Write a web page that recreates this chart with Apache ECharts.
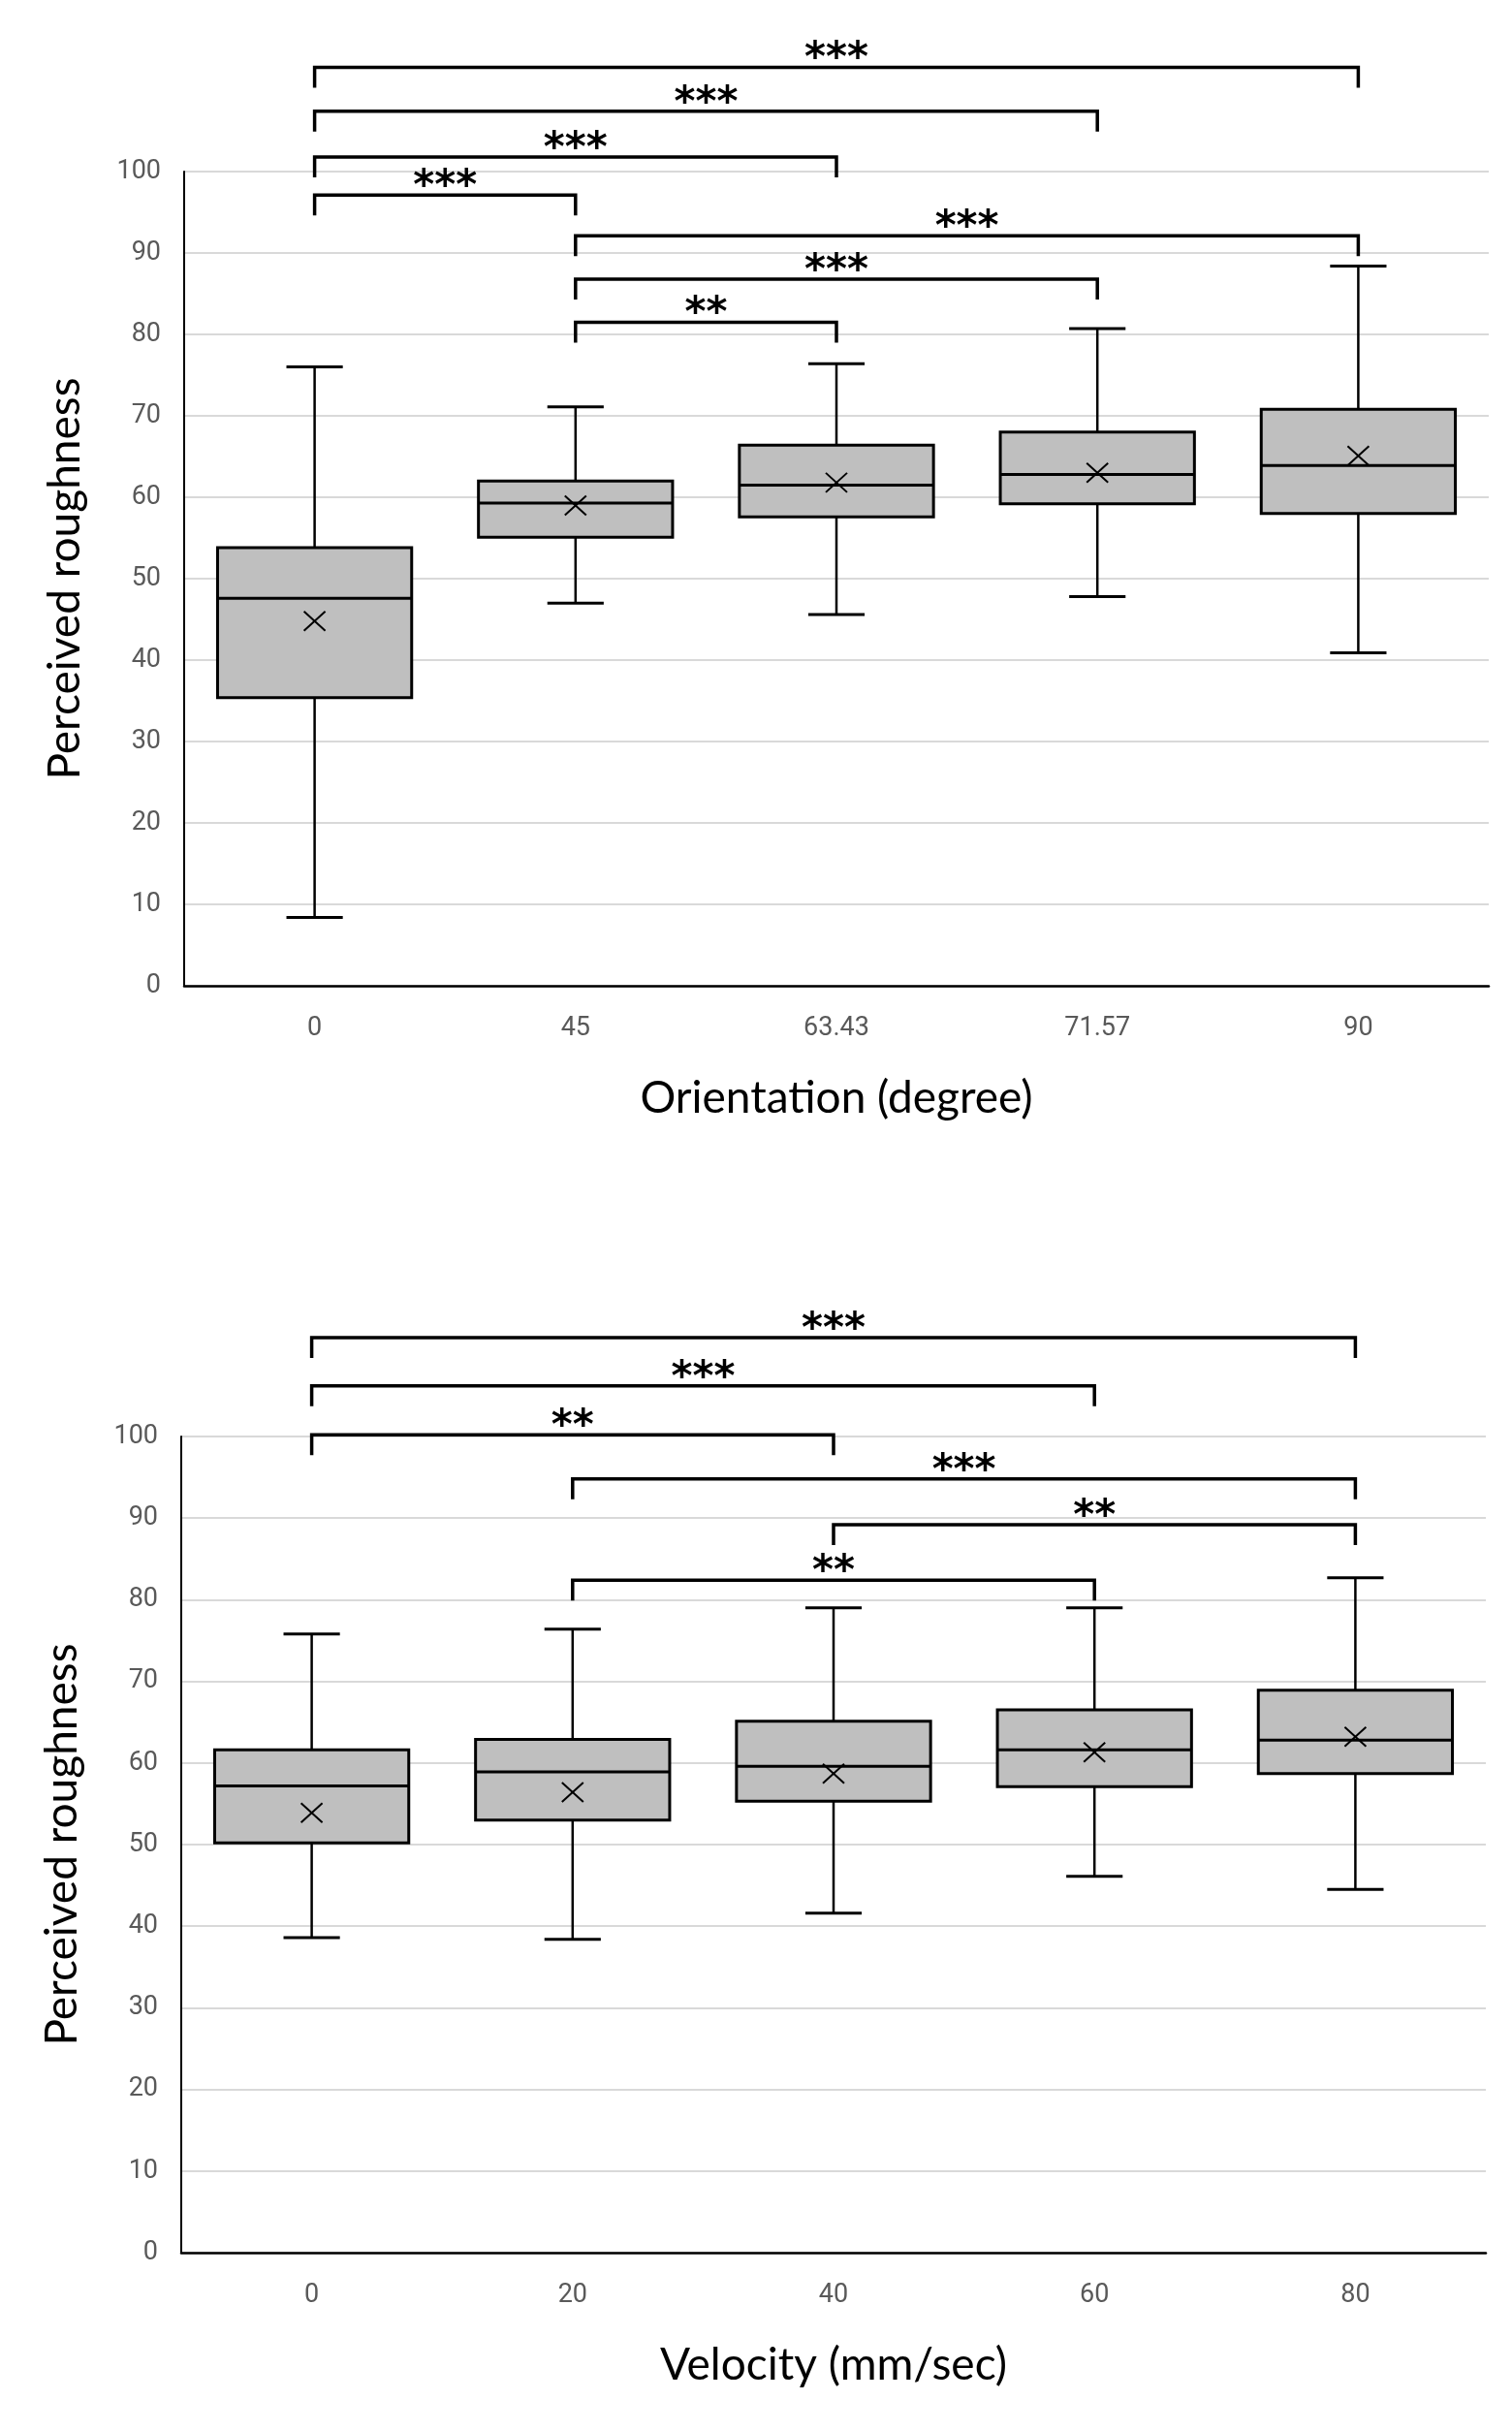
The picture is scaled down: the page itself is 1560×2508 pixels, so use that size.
<!DOCTYPE html>
<html>
<head>
<meta charset="utf-8">
<script src="https://cdn.jsdelivr.net/npm/echarts@6/dist/echarts.min.js"></script>
<style>
html, body { margin: 0; padding: 0; background: #fff; }
#chart { width: 1560px; height: 2508px; }
</style>
</head>
<body>
<div id="chart"></div>
<script>
// orientation experiment
const orientCats = ['0', '45', '63.43', '71.57', '90'];
const orientMin = [8.4, 47.0, 45.6, 47.8, 40.9];
const orientQ1 = [35.4, 55.1, 57.6, 59.2, 58.0];
const orientMedian = [47.6, 59.3, 61.5, 62.8, 63.9];
const orientQ3 = [53.8, 62.0, 66.4, 68.0, 70.8];
const orientMax = [76.0, 71.1, 76.4, 80.7, 88.4];
const orientMean = [44.8, 59.0, 61.8, 63.0, 65.1];
const orientPairs = [[0, 4], [0, 3], [0, 2], [0, 1], [1, 4], [1, 3], [1, 2]];
const orientLevels = [112.8, 107.4, 101.8, 97.1, 92.1, 86.8, 81.5];
const orientStars = ['***', '***', '***', '***', '***', '***', '**'];

// velocity experiment
const velCats = ['0', '20', '40', '60', '80'];
const velMin = [38.6, 38.4, 41.6, 46.1, 44.5];
const velQ1 = [50.2, 53.0, 55.3, 57.1, 58.7];
const velMedian = [57.2, 58.9, 59.6, 61.6, 62.8];
const velQ3 = [61.6, 62.9, 65.1, 66.5, 68.9];
const velMax = [75.8, 76.4, 79.0, 79.0, 82.7];
const velMean = [53.9, 56.4, 58.7, 61.3, 63.2];
const velPairs = [[0, 4], [0, 3], [0, 2], [1, 4], [2, 4], [1, 3]];
const velLevels = [112.1, 106.2, 100.2, 94.8, 89.2, 82.4];
const velStars = ['***', '***', '**', '***', '**', '**'];

const yTicks = { min: 0, max: 100, interval: 10 };

var chart = echarts.init(document.getElementById('chart'));

function boxItems(min, q1, med, q3, max, mean) {
  return min.map(function (v, i) {
    return [i, v, q1[i], med[i], q3[i], max[i], mean[i]];
  });
}

function bracketItems(pairs, levels) {
  return pairs.map(function (p, k) {
    return [p[0], p[1], levels[k]];
  });
}

// box + whiskers + mean cross
function renderBox(params, api) {
  var i = api.value(0);
  var cx = api.coord([i, 0])[0];
  var band = api.size([1, 0])[0];
  var half = band * 0.372;
  var cap = band * 0.108;
  function y(d) { return api.coord([i, api.value(d)])[1]; }
  var yMin = y(1), yQ1 = y(2), yMed = y(3), yQ3 = y(4), yMax = y(5), yMean = y(6);
  var thin = { stroke: '#000', lineWidth: 2.5 };
  var mx = 11, my = 10;
  return {
    type: 'group',
    children: [
      { type: 'line', shape: { x1: cx, y1: yMax, x2: cx, y2: yQ3 }, style: thin },
      { type: 'line', shape: { x1: cx, y1: yQ1, x2: cx, y2: yMin }, style: thin },
      { type: 'line', shape: { x1: cx - cap, y1: yMax, x2: cx + cap, y2: yMax }, style: { stroke: '#000', lineWidth: 3 } },
      { type: 'line', shape: { x1: cx - cap, y1: yMin, x2: cx + cap, y2: yMin }, style: { stroke: '#000', lineWidth: 3 } },
      { type: 'rect', shape: { x: cx - half, y: yQ3, width: half * 2, height: yQ1 - yQ3 },
        style: { fill: '#bfbfbf', stroke: '#000', lineWidth: 3 } },
      { type: 'line', shape: { x1: cx - half, y1: yMed, x2: cx + half, y2: yMed }, style: { stroke: '#000', lineWidth: 3 } },
      { type: 'line', shape: { x1: cx - mx, y1: yMean - my, x2: cx + mx, y2: yMean + my }, style: { stroke: '#000', lineWidth: 2 } },
      { type: 'line', shape: { x1: cx - mx, y1: yMean + my, x2: cx + mx, y2: yMean - my }, style: { stroke: '#000', lineWidth: 2 } }
    ]
  };
}

// significance brackets
function makeBracketRender(stars) {
  return function (params, api) {
    var a = api.coord([api.value(0), api.value(2)]);
    var b = api.coord([api.value(1), api.value(2)]);
    return {
      type: 'group',
      children: [
        { type: 'polyline',
          shape: { points: [[a[0], a[1] + 21], a, b, [b[0], b[1] + 21]] },
          style: { stroke: '#000', lineWidth: 3.5, fill: null } },
        { type: 'text', x: (a[0] + b[0]) / 2, y: a[1] - 7,
          style: { text: stars[params.dataIndex], fill: '#000', fontSize: 42, fontWeight: 'bold', fontFamily: 'DejaVu Sans',
            align: 'center', verticalAlign: 'middle', textAlign: 'center', textVerticalAlign: 'middle' } }
      ]
    };
  };
}

function xAxisCfg(idx, cats, name) {
  return {
    type: 'category', gridIndex: idx, data: cats,
    name: name, nameLocation: 'middle', nameGap: 93,
    nameTextStyle: { fontFamily: 'Lato', fontSize: 46, color: '#000' },
    axisLine: { lineStyle: { color: '#000', width: 2.5 } },
    axisTick: { show: false },
    axisLabel: { margin: 31, fontFamily: 'Roboto', fontSize: 27, color: '#595959' },
    splitLine: { show: false }
  };
}

function yAxisCfg(idx) {
  return {
    type: 'value', gridIndex: idx,
    min: yTicks.min, max: yTicks.max, interval: yTicks.interval,
    name: 'Perceived roughness', nameLocation: 'middle', nameGap: 100,
    nameTextStyle: { fontFamily: 'Lato', fontSize: 46, color: '#000' },
    axisLine: { show: true, lineStyle: { color: '#000', width: 2 } },
    axisTick: { show: false },
    axisLabel: { margin: 24, fontFamily: 'Roboto', fontSize: 27, color: '#595959' },
    splitLine: { lineStyle: { color: '#d9d9d9', width: 2 } }
  };
}

var option = {
  animation: false,
  backgroundColor: '#fff',
  grid: [
    { left: 190, top: 177, width: 1346, height: 840 },
    { left: 187, top: 1482, width: 1346, height: 842 }
  ],
  xAxis: [
    xAxisCfg(0, orientCats, 'Orientation (degree)'),
    xAxisCfg(1, velCats, 'Velocity (mm/sec)')
  ],
  yAxis: [yAxisCfg(0), yAxisCfg(1)],
  series: [
    {
      name: 'orientation', type: 'custom', xAxisIndex: 0, yAxisIndex: 0,
      data: boxItems(orientMin, orientQ1, orientMedian, orientQ3, orientMax, orientMean),
      encode: { x: 0, y: [1, 5] },
      renderItem: renderBox
    },
    {
      name: 'orientation sig', type: 'custom', xAxisIndex: 0, yAxisIndex: 0, clip: false,
      data: bracketItems(orientPairs, orientLevels),
      encode: { x: [0, 1], y: 2 },
      renderItem: makeBracketRender(orientStars)
    },
    {
      name: 'velocity', type: 'custom', xAxisIndex: 1, yAxisIndex: 1,
      data: boxItems(velMin, velQ1, velMedian, velQ3, velMax, velMean),
      encode: { x: 0, y: [1, 5] },
      renderItem: renderBox
    },
    {
      name: 'velocity sig', type: 'custom', xAxisIndex: 1, yAxisIndex: 1, clip: false,
      data: bracketItems(velPairs, velLevels),
      encode: { x: [0, 1], y: 2 },
      renderItem: makeBracketRender(velStars)
    }
  ]
};

chart.setOption(option);
</script>
</body>
</html>
